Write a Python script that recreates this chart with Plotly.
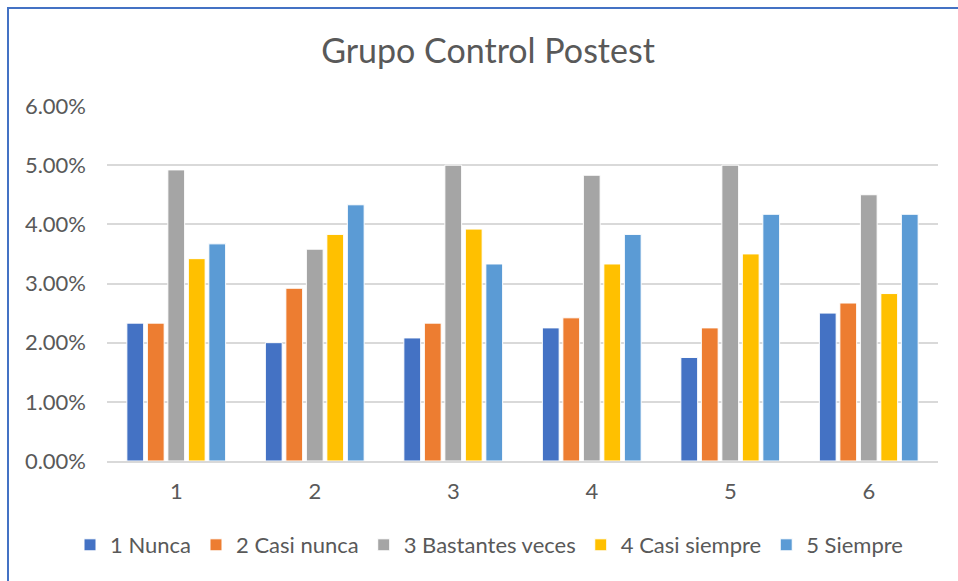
import plotly.graph_objects as go

# Chart data
CATEGORIES = ['1', '2', '3', '4', '5', '6']
SERIES_NAMES = ['1 Nunca', '2 Casi nunca', '3 Bastantes veces', '4 Casi siempre', '5 Siempre']
NUNCA = [0.0233, 0.0200, 0.0208, 0.0225, 0.0175, 0.0250]
CASI_NUNCA = [0.0233, 0.0292, 0.0233, 0.0242, 0.0225, 0.0267]
BASTANTES = [0.0492, 0.0358, 0.0500, 0.0483, 0.0500, 0.0450]
CASI_SIEMPRE = [0.0342, 0.0383, 0.0392, 0.0333, 0.0350, 0.0283]
SIEMPRE = [0.0367, 0.0433, 0.0333, 0.0383, 0.0417, 0.0417]
Y_TICKS = [0, 0.01, 0.02, 0.03, 0.04, 0.05, 0.06]

# Style
COLORS = ['#4472C4', '#ED7D31', '#A5A5A5', '#FFC000', '#5B9BD5']
TEXT_COLOR = '#595959'
GRID_COLOR = '#D9D9D9'
BORDER_COLOR = '#4472C4'
FONT = 'Lato'

# Figure and plot area in pixels
FIG_W, FIG_H = 958, 581
LEFT, TOP = 107, 106
RIGHT, BOTTOM = 20, 120
PLOT_W = FIG_W - LEFT - RIGHT
PLOT_H = FIG_H - TOP - BOTTOM


def px_to_paper_x(px):
    return (px - LEFT) / PLOT_W


def px_to_paper_y(py):
    return (FIG_H - BOTTOM - py) / PLOT_H


fig = go.Figure()

all_values = [NUNCA, CASI_NUNCA, BASTANTES, CASI_SIEMPRE, SIEMPRE]
for name, values, color in zip(SERIES_NAMES, all_values, COLORS):
    fig.add_trace(go.Bar(
        x=CATEGORIES,
        y=values,
        name=name,
        marker=dict(color=color, line=dict(color='white', width=1)),
    ))

fig.update_layout(
    width=FIG_W, height=FIG_H,
    margin=dict(l=LEFT, r=RIGHT, t=TOP, b=BOTTOM, autoexpand=False),
    paper_bgcolor='white',
    plot_bgcolor='white',
    barmode='group',
    bargap=0.26,
    bargroupgap=0.18,
    font=dict(family=FONT, color=TEXT_COLOR, size=22),
    title=dict(
        text='Grupo Control Postest',
        x=px_to_paper_x(488), xref='paper', xanchor='center',
        y=1 - 51 / FIG_H, yanchor='middle',
        font=dict(family=FONT, size=34, color=TEXT_COLOR),
    ),
    # legend starts left of the plot area so it may use the full width in one row
    legend=dict(
        orientation='h',
        x=px_to_paper_x(70), xanchor='left',
        y=px_to_paper_y(545), yanchor='middle',
        font=dict(family=FONT, size=22, color=TEXT_COLOR),
        traceorder='normal',
        itemwidth=30,
    ),
    xaxis=dict(
        showgrid=False,
        showline=True, linecolor=GRID_COLOR, linewidth=1.5,
        ticks='', ticklabelstandoff=10,
        tickfont=dict(size=22),
    ),
    yaxis=dict(
        range=[0, 0.06],
        tickvals=Y_TICKS,
        tickformat='.2%',
        showgrid=True, gridcolor=GRID_COLOR, gridwidth=1.5,
        zeroline=False,
        ticks='', ticklabelstandoff=20,
        tickfont=dict(size=22),
    ),
)

# Chart border: only the left and top edges are visible in the crop
fig.add_shape(
    type='line', xref='paper', yref='paper',
    x0=px_to_paper_x(8), x1=px_to_paper_x(8),
    y0=px_to_paper_y(FIG_H), y1=px_to_paper_y(7),
    line=dict(color=BORDER_COLOR, width=2),
)
fig.add_shape(
    type='line', xref='paper', yref='paper',
    x0=px_to_paper_x(7), x1=px_to_paper_x(FIG_W),
    y0=px_to_paper_y(8), y1=px_to_paper_y(8),
    line=dict(color=BORDER_COLOR, width=2),
)

# drop the default body margin so the figure sits at the page corner
fig.write_html(
    'out.html',
    config={'displayModeBar': False},
    post_script="document.body.style.margin='0';document.body.style.overflow='hidden';",
)
